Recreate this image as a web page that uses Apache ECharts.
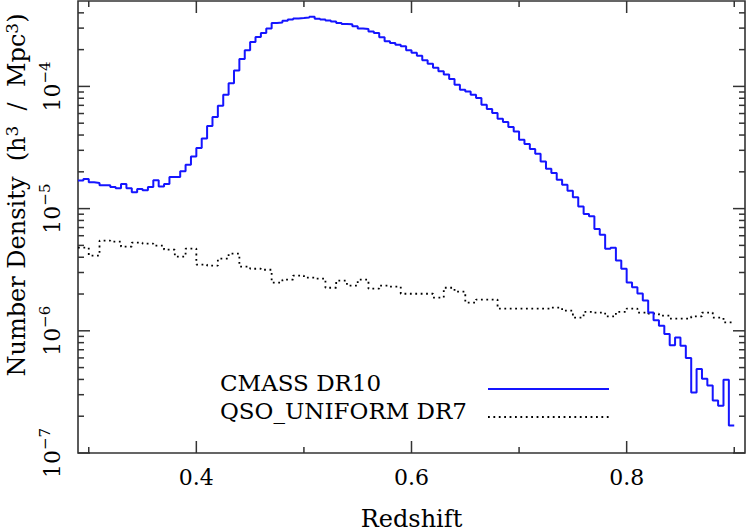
<!DOCTYPE html>
<html>
<head>
<meta charset="utf-8">
<script src="https://cdn.jsdelivr.net/npm/echarts@6/dist/echarts.min.js"></script>
<style>
  html, body { margin: 0; padding: 0; background: #fff; }
  #chart { width: 747px; height: 532px; }
</style>
</head>
<body>
<div id="chart"></div>
<script>
// histogram bins: left edge of the first bin and bin width
var cmassStart = 0.29, cmassWidth = 0.005;
var qsoStart = 0.29, qsoWidth = 0.01;

// CMASS DR10 number density per bin (h^3 / Mpc^3)
var cmassDensity = [
  1.70e-5, 1.75e-5, 1.64e-5, 1.62e-5, 1.55e-5, 1.55e-5, 1.50e-5, 1.47e-5, 1.59e-5, 1.47e-5,
  1.36e-5, 1.45e-5, 1.41e-5, 1.50e-5, 1.71e-5, 1.52e-5, 1.59e-5, 1.81e-5, 1.81e-5, 2.02e-5,
  2.29e-5, 2.67e-5, 3.13e-5, 3.75e-5, 4.74e-5, 5.63e-5, 6.95e-5, 8.55e-5, 1.06e-4, 1.35e-4,
  1.68e-4, 1.98e-4, 2.31e-4, 2.54e-4, 2.74e-4, 2.98e-4, 3.30e-4, 3.34e-4, 3.45e-4, 3.53e-4,
  3.60e-4, 3.63e-4, 3.67e-4, 3.72e-4, 3.58e-4, 3.53e-4, 3.47e-4, 3.39e-4, 3.30e-4, 3.24e-4,
  3.22e-4, 3.10e-4, 2.98e-4, 2.95e-4, 2.82e-4, 2.74e-4, 2.52e-4, 2.34e-4, 2.27e-4, 2.19e-4,
  2.13e-4, 1.98e-4, 1.89e-4, 1.78e-4, 1.64e-4, 1.53e-4, 1.42e-4, 1.33e-4, 1.25e-4, 1.15e-4,
  1.03e-4, 9.40e-5, 9.10e-5, 8.55e-5, 8.04e-5, 7.08e-5, 6.53e-5, 6.06e-5, 5.44e-5, 5.11e-5,
  4.65e-5, 4.28e-5, 3.66e-5, 3.38e-5, 3.07e-5, 2.81e-5, 2.43e-5, 2.12e-5, 1.96e-5, 1.72e-5,
  1.57e-5, 1.40e-5, 1.24e-5, 1.04e-5, 9.03e-6, 8.64e-6, 6.81e-6, 6.11e-6, 4.70e-6, 4.79e-6,
  3.77e-6, 3.22e-6, 2.49e-6, 2.27e-6, 2.02e-6, 1.77e-6, 1.41e-6, 1.22e-6, 1.10e-6, 9.41e-7,
  7.60e-7, 8.83e-7, 7.55e-7, 5.99e-7, 3.13e-7, 4.87e-7, 4.06e-7, 3.57e-7, 2.69e-7, 2.44e-7,
  3.98e-7, 1.68e-7
];

// QSO_UNIFORM DR7 number density per bin
var qsoDensity = [
  4.79e-6, 4.12e-6, 5.46e-6, 5.36e-6, 4.88e-6, 5.26e-6, 5.16e-6, 4.97e-6, 4.61e-6, 4.04e-6,
  4.70e-6, 3.48e-6, 3.41e-6, 3.89e-6, 4.28e-6, 3.35e-6, 3.22e-6, 3.16e-6, 2.48e-6, 2.62e-6,
  2.83e-6, 2.72e-6, 2.67e-6, 2.25e-6, 2.57e-6, 2.34e-6, 2.62e-6, 2.21e-6, 2.34e-6, 2.30e-6,
  2.01e-6, 2.01e-6, 2.01e-6, 1.87e-6, 2.25e-6, 2.09e-6, 1.70e-6, 1.80e-6, 1.80e-6, 1.52e-6,
  1.52e-6, 1.52e-6, 1.52e-6, 1.52e-6, 1.55e-6, 1.46e-6, 1.28e-6, 1.43e-6, 1.41e-6, 1.31e-6,
  1.43e-6, 1.52e-6, 1.41e-6, 1.38e-6, 1.33e-6, 1.26e-6, 1.26e-6, 1.31e-6, 1.41e-6, 1.28e-6,
  1.17e-6
];

var seriesNames = ['CMASS DR10', 'QSO_UNIFORM DR7'];
var xMin = 0.29, xMax = 0.91;
var yMin = 1e-7, yMax = 5e-4;
var xMajorTicks = [0.4, 0.6, 0.8];
var xMinorTicks = [0.3, 0.5, 0.7, 0.9];
var yDecades = [-7, -6, -5, -4];
var yMinorFactors = [2, 3, 4, 5, 6, 7, 8, 9];

var font = 'DejaVu Serif';
var frameColor = '#333';

// histogram -> step line points (left edges + closing right edge)
function toSteps(start, width, vals) {
  var pts = vals.map(function (v, i) {
    return [+(start + i * width).toFixed(4), v];
  });
  pts.push([+(start + vals.length * width).toFixed(4), vals[vals.length - 1]]);
  return pts;
}

// tick marks on all four sides: [x, y, kind(0=x,1=y), length]
var tickItems = [];
xMajorTicks.forEach(function (v) { tickItems.push([v, yMin, 0, 12]); });
xMinorTicks.forEach(function (v) { tickItems.push([v, yMin, 0, 6]); });
yDecades.forEach(function (d) {
  var base = Math.pow(10, d);
  tickItems.push([xMin, base, 1, 12]);
  yMinorFactors.forEach(function (f) {
    if (f * base < yMax) tickItems.push([xMin, f * base, 1, 6]);
  });
});

var chart = echarts.init(document.getElementById('chart'), null, { renderer: 'svg' });

var option = {
  animation: false,
  backgroundColor: '#fff',
  grid: {
    left: 78, right: 2, top: 1, bottom: 79,
    containLabel: false,
    outerBoundsMode: 'none',
    show: true,
    borderColor: frameColor,
    borderWidth: 1.6
  },
  legend: {
    orient: 'vertical',
    left: 220,
    top: 371,
    padding: 0,
    itemGap: -8,
    itemWidth: 121,
    itemHeight: 14,
    align: 'right',
    selectedMode: false,
    data: seriesNames,
    itemStyle: { opacity: 0 },
    formatter: function (name) { return '{t|' + name + '}'; },
    textStyle: {
      color: '#000',
      rich: {
        t: {
          width: 263, align: 'left',
          fontFamily: font, fontSize: 23, lineHeight: 18,
          padding: [0, 0, 13, 0], color: '#000'
        }
      }
    }
  },
  xAxis: {
    type: 'value',
    min: xMin, max: xMax,
    axisLine: { show: false },
    axisTick: { show: false },
    splitLine: { show: false },
    axisLabel: {
      margin: 13,
      fontFamily: font, fontSize: 22, color: '#000',
      formatter: function (v) {
        for (var i = 0; i < xMajorTicks.length; i++) {
          if (Math.abs(v - xMajorTicks[i]) < 1e-6) return xMajorTicks[i].toFixed(1);
        }
        return '';
      }
    },
    name: 'Redshift',
    nameLocation: 'middle',
    nameGap: 55,
    nameTextStyle: { fontFamily: font, fontSize: 24, lineHeight: 22, color: '#000' }
  },
  yAxis: {
    type: 'log',
    logBase: 10,
    min: yMin, max: yMax,
    axisLine: { show: false },
    axisTick: { show: false },
    splitLine: { show: false },
    minorTick: { show: false },
    axisLabel: {
      rotate: 90,
      margin: 15,
      color: '#000',
      formatter: function (v) {
        var k = Math.round(Math.log10(v));
        if (Math.abs(Math.log10(v) - k) > 0.01) return '';
        return '{b|10}{s|\u2212' + (-k) + '}';
      },
      rich: {
        b: { fontFamily: font, fontSize: 22, lineHeight: 26, verticalAlign: 'bottom', color: '#000' },
        s: { fontFamily: font, fontSize: 15, lineHeight: 16, verticalAlign: 'top', color: '#000' }
      }
    },
    name: '{a|Number Density  (h}{s|3}{a|  /  Mpc}{s|3}{a|)}',
    nameLocation: 'middle',
    nameRotate: 90,
    nameGap: 45,
    nameTextStyle: {
      padding: [0, 0, 0, 64],
      rich: {
        a: { fontFamily: font, fontSize: 24, lineHeight: 26, verticalAlign: 'bottom', color: '#000' },
        s: { fontFamily: font, fontSize: 17, lineHeight: 17, verticalAlign: 'top', color: '#000' }
      }
    }
  },
  series: [
    {
      name: seriesNames[0],
      type: 'line',
      step: 'end',
      symbol: 'none',
      data: toSteps(cmassStart, cmassWidth, cmassDensity),
      lineStyle: { color: '#1515ff', width: 2 },
      itemStyle: { color: '#1515ff', opacity: 0 },
      z: 3
    },
    {
      name: seriesNames[1],
      type: 'line',
      step: 'end',
      symbol: 'none',
      data: toSteps(qsoStart, qsoWidth, qsoDensity),
      lineStyle: { color: '#000', width: 1.8, type: [1.8, 3.6] },
      itemStyle: { color: '#000', opacity: 0 },
      z: 2
    },
    {
      type: 'custom',
      silent: true,
      data: tickItems,
      renderItem: function (params, api) {
        var cs = params.coordSys;
        var kind = api.value(2), len = api.value(3);
        var st = { stroke: frameColor, lineWidth: 1.5 };
        if (kind === 0) {
          var px = api.coord([api.value(0), yMin])[0];
          return { type: 'group', children: [
            { type: 'line', shape: { x1: px, y1: cs.y + cs.height, x2: px, y2: cs.y + cs.height - len }, style: st },
            { type: 'line', shape: { x1: px, y1: cs.y, x2: px, y2: cs.y + len }, style: st }
          ] };
        }
        var py = api.coord([xMin, api.value(1)])[1];
        return { type: 'group', children: [
          { type: 'line', shape: { x1: cs.x, y1: py, x2: cs.x + len, y2: py }, style: st },
          { type: 'line', shape: { x1: cs.x + cs.width, y1: py, x2: cs.x + cs.width - len, y2: py }, style: st }
        ] };
      },
      z: 4
    }
  ]
};

chart.setOption(option);
</script>
</body>
</html>
